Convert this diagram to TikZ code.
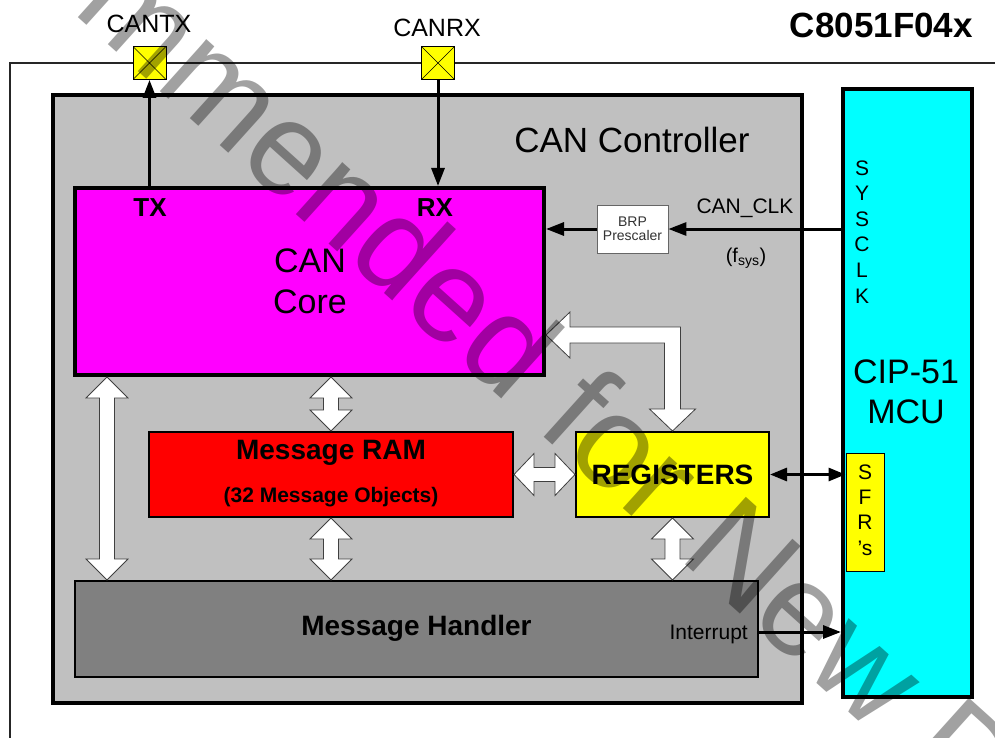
\documentclass[tikz,border=0pt]{standalone}
\usepackage{fontspec}
\setmainfont{Liberation Sans}
\usetikzlibrary{arrows.meta,calc}
\definecolor{ctlgray}{HTML}{C0C0C0}
\definecolor{hdlgray}{HTML}{808080}
\definecolor{coremag}{HTML}{FF00FF}
\definecolor{ramred}{HTML}{FF0000}
\definecolor{regyel}{HTML}{FFFF00}
\definecolor{cipcyan}{HTML}{00FFFF}
\definecolor{arrowedge}{HTML}{404040}
\tikzset{
  every node/.style={inner sep=0pt},
  fs/.style={font=\fontsize{#1}{#1}\selectfont},
  fsb/.style={font=\fontsize{#1}{#1}\selectfont\bfseries},
  box/.style={draw=black, rectangle},
  pad/.style={draw=black, fill=regyel, minimum size=33pt, line width=0.8pt,
    path picture={\draw[line width=0.5pt] (path picture bounding box.south west) -- (path picture bounding box.north east)
      (path picture bounding box.north west) -- (path picture bounding box.south east);}},
  sig/.style={line width=3pt, -{Triangle[length=18pt,width=13pt]}},
  bisig/.style={line width=3pt, {Triangle[length=17pt,width=13pt]}-{Triangle[length=17pt,width=13pt]}},
  blockarrow/.style={fill=white, draw=arrowedge, line width=0.8pt, line join=miter},
  wm/.style={rotate=-42, text=black, text opacity=0.37, font=\fontsize{132}{132}\selectfont},
}
\newcommand\vblockarrow[2]{%
  \draw[blockarrow] let \p1=(#1), \p2=(#2) in
  (\x1,\y1) -- ({\x1+21pt},{\y1-21pt}) -- ({\x1+7.5pt},{\y1-21pt}) -- ({\x1+7.5pt},{\y2+21pt})
  -- ({\x1+21pt},{\y2+21pt}) -- (\x1,\y2) -- ({\x1-21pt},{\y2+21pt}) -- ({\x1-7.5pt},{\y2+21pt})
  -- ({\x1-7.5pt},{\y1-21pt}) -- ({\x1-21pt},{\y1-21pt}) -- cycle;}
\newcommand\hblockarrow[2]{%
  \draw[blockarrow] let \p1=(#1), \p2=(#2) in
  (\x1,\y1) -- ({\x1+20pt},{\y1+21pt}) -- ({\x1+20pt},{\y1+7pt}) -- ({\x2-20pt},{\y1+7pt})
  -- ({\x2-20pt},{\y1+21pt}) -- (\x2,\y1) -- ({\x2-20pt},{\y1-21pt}) -- ({\x2-20pt},{\y1-7pt})
  -- ({\x1+20pt},{\y1-7pt}) -- ({\x1+20pt},{\y1-21pt}) -- cycle;}
\begin{document}
\begin{tikzpicture}[x=1pt,y=-1pt]
\useasboundingbox (0,0) rectangle (995,738);
\clip (0,0) rectangle (995,738);
\fill[white] (0,0) rectangle (995,738);

% outer device outline
\draw[line width=2pt, draw=black!85] (10,745) -- (10,63) -- (1000,63);
\node[fsb=35, anchor=east] (title) at (973,25) {C8051F04x};

% pins
\node[pad] (padtx) at (149.5,63) {};
\node[pad] (padrx) at (438,63) {};
\node[fs=25] (lbltx) at (149,24) {CANTX};
\node[fs=25] (lblrx) at (437,28) {CANRX};

% CAN controller
\node[box, fill=ctlgray, line width=4pt, minimum width=749pt, minimum height=608pt] (ctl) at (427.5,399) {};
\node[fs=35] (ctltext) at (632,140) {CAN Controller};

% CAN core
\node[box, fill=coremag, line width=4pt, minimum width=469pt, minimum height=187pt] (core) at (309.5,281.5) {};
\node[fsb=26] (txl) at (150,208) {TX};
\node[fsb=26] (rxl) at (435,208) {RX};
\node[fs=34, anchor=base] (coret1) at (310,272) {CAN};
\node[fs=34, anchor=base] (coret2) at (310,313) {Core};

% BRP prescaler
\node[draw=black!60, fill=white, line width=0.8pt, minimum width=71pt, minimum height=48pt,
  align=center, fs=14, text=black!80] (brp) at (632.5,229) {\fontsize{14}{18}\selectfont BRP\\Prescaler};
\node[fs=21, anchor=base] (clkl) at (745,213) {CAN\_CLK};
\node[fs=20] (fsys) at (746,258) {(f\textsubscript{sys})};

% CIP-51
\node[box, fill=cipcyan, line width=4pt, minimum width=129pt, minimum height=608pt] (cip) at (907.5,393) {};
\foreach \ch/\yy [count=\i] in {S/168,Y/193,S/219,C/244,L/270,K/296}
  \node[fs=21] (sys\i) at (862,\yy) {\ch};
\node[fs=34, anchor=base] (cipt1) at (906,383) {CIP-51};
\node[fs=34, anchor=base] (cipt2) at (906,423) {MCU};
\node[box, fill=regyel, line width=1pt, minimum width=38pt, minimum height=118pt] (sfr) at (865,512) {};
\foreach \ch/\yy [count=\i] in {S/472,F/497,R/522,'s/548}
  \node[fs=21] (sfrl\i) at (865,\yy) {\ch};

% registers, RAM, handler
\node[box, fill=regyel, line width=2pt, minimum width=193pt, minimum height=85pt, fsb=28] (reg) at (672.5,474.5) {REGISTERS};
\node[box, fill=ramred, line width=2pt, minimum width=364pt, minimum height=85pt] (ram) at (331,474.5) {};
\node[fsb=28] (ramt1) at (331,453) {Message RAM};
\node[fsb=21] (ramt2) at (331,497) {(32 Message Objects)};
\node[box, fill=hdlgray, line width=2pt, minimum width=683pt, minimum height=96pt] (hdl) at (416.5,629) {};
\node[fsb=28] (hdlt) at (416.5,628) {Message Handler};
\node[fs=21, anchor=base east] (intl) at (748,639) {Interrupt};

% signal arrows
\draw[sig] (core.north -| padtx) -- (padtx.south);
\draw[sig] (padrx.south) -- (padrx.south |- core.north);
\draw[sig] (cip.west |- brp) -- (brp.east);
\draw[sig] (brp.west) -- (brp.west -| core.east);
\coordinate (intp) at (758,632);
\draw[sig] (intp) -- (intp -| cip.west);
\draw[bisig] (reg.east) -- (reg.east -| sfr.west);

% block arrows
\coordinate (lx) at (107,0);
\vblockarrow{lx |- core.south}{lx |- hdl.north}
\vblockarrow{ram.north |- core.south}{ram.north}
\vblockarrow{ram.south}{ram.south |- hdl.north}
\vblockarrow{reg.south}{reg.south |- hdl.north}
\hblockarrow{ram.east}{reg.west}
\coordinate (by) at (0,335);
\coordinate (bt) at (core.east |- by);
\draw[blockarrow] let \p1=(bt), \p2=(reg.north) in
  (\x1,\y1) -- ({\x1+24pt},{\y1+23pt}) -- ({\x1+24pt},{\y1+8pt}) -- ({\x2+8pt},{\y1+8pt})
  -- ({\x2+8pt},{\y2+22pt}) -- ({\x2+23pt},{\y2+22pt}) -- (\x2,\y2) -- ({\x2-23pt},{\y2+22pt})
  -- ({\x2-8pt},{\y2+22pt}) -- ({\x2-8pt},{\y1-8pt}) -- ({\x1+24pt},{\y1-8pt}) -- ({\x1+24pt},{\y1-23pt}) -- cycle;

% watermark
\node[wm, anchor=base west] (wm2) at (677,557) {New Designs};
\node[wm, anchor=base east] (wm1) at (650,532.5) {Not Recommended for};
\end{tikzpicture}
\end{document}
